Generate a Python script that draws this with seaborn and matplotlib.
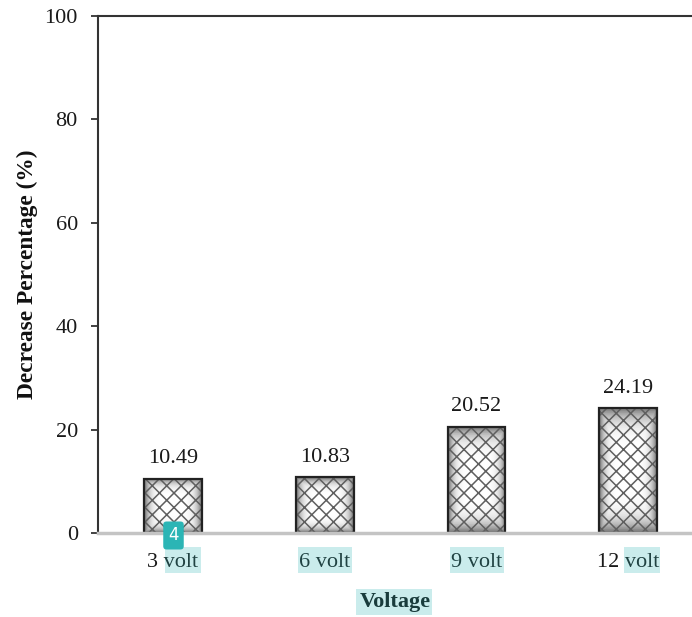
import numpy as np
import matplotlib
matplotlib.use("Agg")
import matplotlib.pyplot as plt
from matplotlib.patches import Rectangle
import seaborn as sns

voltages = ["3 volt", "6 volt", "9 volt", "12 volt"]
decrease = [10.49, 10.83, 20.52, 24.19]
y_ticks = [0, 20, 40, 60, 80, 100]

W, H = 692, 617
DPI = 87  # hatch spacing follows the dpi, sizes below are scaled to keep them
S = 100 / DPI

sns.set_style("white")
plt.rcParams["font.family"] = ["Liberation Serif", "DejaVu Serif"]
plt.rcParams["hatch.linewidth"] = 1.1 * S

fig = plt.figure(figsize=(W / DPI, H / DPI), dpi=DPI, facecolor="white")
ax = fig.add_axes([98 / W, (H - 533) / H, (W - 98) / W, (533 - 16) / H])

# hatched bars, the grey fill goes underneath
sns.barplot(x=voltages, y=decrease, fill=False, width=0.38, linewidth=1.1 * S, ax=ax)
bars = list(ax.patches)
for p in bars:
    p.set_hatch("xx")
    p.set_edgecolor("#5f5f5f")
    p.set_zorder(2)

u, v = np.meshgrid(np.linspace(-1, 1, 60), np.linspace(-1, 1, 60))
shade = 1 - 0.55 * np.maximum(np.abs(u), np.abs(v)) ** 5
for p in bars:
    x0, w, h = p.get_x(), p.get_width(), p.get_height()
    ax.imshow(shade, extent=(x0, x0 + w, 0, h), cmap="gray", vmin=0, vmax=1,
              aspect="auto", zorder=1)
    ax.add_patch(Rectangle((x0, 0), w, h, fill=False, edgecolor="#222222",
                           linewidth=1.6 * S, zorder=3))

ax.bar_label(ax.containers[0], fmt="%.2f", padding=7.5 * S, fontsize=16 * S, color="#1a1a1a")

ax.set_xlim(-0.494, 3.42)
ax.set_ylim(0, 100)
ax.set_yticks(y_ticks)
ax.tick_params(axis="y", left=True, length=5 * S, width=1.3 * S, color="#333333",
               labelsize=16 * S, labelcolor="#1a1a1a", pad=9.5 * S)
ax.tick_params(axis="x", bottom=False, labelsize=16 * S, labelcolor="#1a1a1a", pad=11 * S)

ax.spines["right"].set_visible(False)
ax.spines["left"].set_color("#333333")
ax.spines["left"].set_linewidth(1.5 * S)
ax.spines["top"].set_color("#333333")
ax.spines["top"].set_linewidth(1.5 * S)
ax.spines["bottom"].set_color("#c4c4c4")
ax.spines["bottom"].set_linewidth(2.5 * S)
ax.spines["bottom"].set_zorder(4)

ax.set_xlabel("Voltage", fontsize=16 * S, fontweight="bold", color="#111111", labelpad=15 * S)
ax.set_ylabel("Decrease Percentage (%)", fontsize=16.8 * S, fontweight="bold",
              color="#111111", labelpad=5 * S)

# highlight boxes from the source page, laid over the text in pixels
for left, right, top, bottom in [(165, 201, 547, 573), (298, 352, 547, 573),
                                 (450, 504, 547, 573), (624, 660, 547, 573),
                                 (356, 432, 589, 615)]:
    fig.patches.append(Rectangle((left / W, 1 - bottom / H), (right - left) / W,
                                 (bottom - top) / H, transform=fig.transFigure,
                                 facecolor=(0.2, 0.72, 0.72, 0.26), edgecolor="none",
                                 zorder=5))

fig.text(173.5 / W, 1 - 535.5 / H, "4", ha="center", va="center", color="white",
         fontsize=12 * S, family="DejaVu Sans", zorder=6,
         bbox=dict(boxstyle="round,pad=0.3,rounding_size=0.2", facecolor="#2bb5b5",
                   edgecolor="none"))

fig.savefig("out.png", dpi=DPI, facecolor="white")
